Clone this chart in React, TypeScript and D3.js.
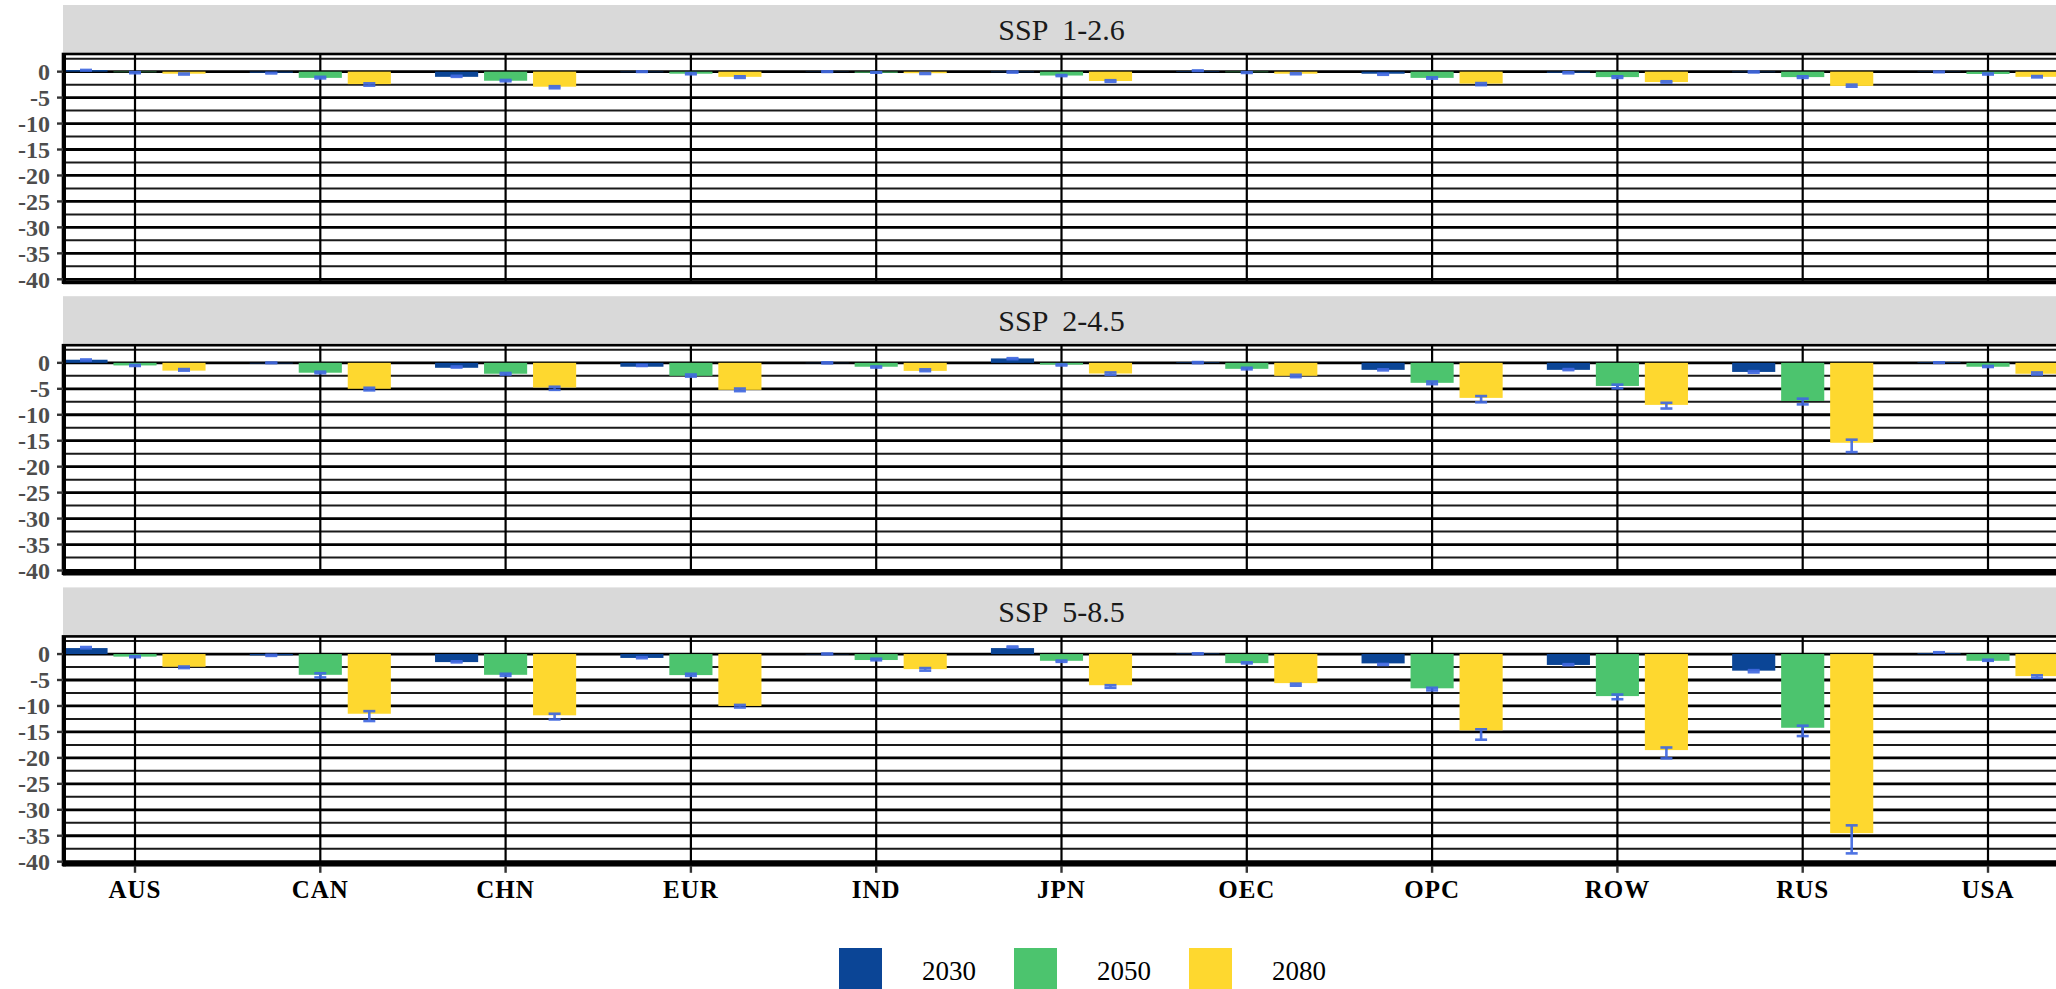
import React, { useEffect } from 'react';
import * as d3 from 'd3';

const countries = ['AUS', 'CAN', 'CHN', 'EUR', 'IND', 'JPN', 'OEC', 'OPC', 'ROW', 'RUS', 'USA'];
const years = ['2030', '2050', '2080'];
const scenarios = ['SSP 1-2.6', 'SSP 2-4.5', 'SSP 5-8.5'];
const yearColors = ['#0B4596', '#4CC46E', '#FED82F'];
const yTicks = [0, -5, -10, -15, -20, -25, -30, -35, -40];

// SSP 1-2.6
const ssp126_2030 = [0.3, -0.2, -1.0, -0.1, -0.05, -0.1, 0.1, -0.4, -0.2, -0.1, -0.05];
const ssp126_2050 = [-0.1, -1.2, -1.75, -0.4, -0.2, -0.75, -0.1, -1.2, -1.05, -1.05, -0.45];
const ssp126_2080 = [-0.4, -2.4, -2.9, -1.0, -0.3, -1.8, -0.4, -2.3, -2.0, -2.75, -1.0];
const ssp126_2030_err = [[0.23, 0.33], [-0.33, -0.23], [-1.0, -0.8], [-0.05, 0.05], [-0.05, 0.05], [-0.18, 0.02], [0.12, 0.22], [-0.6, -0.4], [-0.32, -0.12], [-0.15, 0.05], [-0.1, 0.0]];
const ssp126_2050_err = [[-0.3, -0.1], [-1.3, -1.0], [-1.85, -1.6], [-0.5, -0.3], [-0.2, -0.1], [-0.85, -0.65], [-0.25, -0.1], [-1.35, -1.1], [-1.2, -0.9], [-1.2, -0.9], [-0.55, -0.35]];
const ssp126_2080_err = [[-0.55, -0.35], [-2.7, -2.25], [-3.2, -2.8], [-1.2, -0.9], [-0.45, -0.25], [-1.95, -1.65], [-0.5, -0.3], [-2.6, -2.2], [-2.1, -1.85], [-2.9, -2.5], [-1.1, -0.85]];

// SSP 2-4.5
const ssp245_2030 = [0.6, -0.1, -0.95, -0.75, -0.05, 0.85, 0.1, -1.35, -1.35, -1.75, 0.1];
const ssp245_2050 = [-0.5, -1.9, -2.1, -2.5, -0.75, -0.35, -1.15, -3.85, -4.45, -7.35, -0.75];
const ssp245_2080 = [-1.5, -5.0, -4.75, -5.2, -1.55, -2.05, -2.5, -6.75, -8.1, -15.4, -2.1];
const ssp245_2030_err = [[0.45, 0.65], [-0.05, 0.05], [-0.9, -0.7], [-0.6, -0.4], [-0.1, 0.1], [0.7, 0.9], [-0.05, 0.15], [-1.45, -1.25], [-1.4, -1.2], [-1.9, -1.6], [0.0, 0.1]];
const ssp245_2050_err = [[-0.6, -0.4], [-2.0, -1.7], [-2.25, -1.95], [-2.65, -2.25], [-0.9, -0.7], [-0.5, -0.3], [-1.25, -0.95], [-4.1, -3.6], [-4.9, -4.2], [-8.0, -6.9], [-0.8, -0.6]];
const ssp245_2080_err = [[-1.5, -1.2], [-5.3, -4.8], [-5.2, -4.6], [-5.45, -4.95], [-1.6, -1.25], [-2.3, -1.85], [-2.75, -2.3], [-7.6, -6.4], [-8.8, -7.7], [-17.2, -14.8], [-2.25, -1.85]];

// SSP 5-8.5
const ssp585_2030 = [1.15, -0.25, -1.55, -0.75, -0.05, 1.15, 0.1, -1.8, -2.1, -3.2, 0.15];
const ssp585_2050 = [-0.5, -4.0, -4.0, -4.05, -1.15, -1.3, -1.75, -6.6, -8.1, -14.2, -1.3];
const ssp585_2080 = [-2.45, -11.5, -11.8, -10.0, -2.9, -6.0, -5.6, -14.7, -18.5, -34.5, -4.25];
const ssp585_2030_err = [[1.1, 1.35], [-0.35, -0.15], [-1.6, -1.4], [-0.8, -0.6], [-0.05, 0.1], [1.25, 1.45], [0.0, 0.15], [-2.1, -1.9], [-2.15, -1.95], [-3.5, -3.1], [0.25, 0.35]];
const ssp585_2050_err = [[-0.6, -0.4], [-4.5, -3.7], [-4.2, -3.8], [-4.2, -3.8], [-1.2, -0.9], [-1.5, -1.25], [-1.8, -1.6], [-7.0, -6.5], [-8.7, -7.8], [-15.8, -13.8], [-1.3, -1.1]];
const ssp585_2080_err = [[-2.7, -2.4], [-12.9, -11.0], [-12.6, -11.5], [-10.3, -9.8], [-3.2, -2.7], [-6.5, -6.0], [-6.1, -5.7], [-16.5, -14.5], [-20.1, -18.0], [-38.4, -33.0], [-4.6, -4.1]];

const panelValues = [
  [ssp126_2030, ssp126_2050, ssp126_2080],
  [ssp245_2030, ssp245_2050, ssp245_2080],
  [ssp585_2030, ssp585_2050, ssp585_2080],
];
const panelErrors = [
  [ssp126_2030_err, ssp126_2050_err, ssp126_2080_err],
  [ssp245_2030_err, ssp245_2050_err, ssp245_2080_err],
  [ssp585_2030_err, ssp585_2050_err, ssp585_2080_err],
];

const W = 2056;
const H = 989;
const plotLeft = 63;
const plotRight = 2060;
const panelH = 228.4;
const stripH = 49;
const panelTops = [54, 345.2, 636.4];
const serif = "'Liberation Serif', 'Times New Roman', serif";

const x = d3.scaleBand().domain(countries).range([plotLeft - 20.65, plotRight + 20.65]);
const xSub = d3.scaleBand().domain(years).range([-73.5, 73.5]).paddingInner(0.12).paddingOuter(0.06);

const minorTicks = d3.range(2.5, -40, -5);

function Panel({ idx }) {
  const top = panelTops[idx];
  const y = d3.scaleLinear().domain([-40.6, 3.4]).range([top + panelH, top]);
  const cx = (c) => x(c) + x.bandwidth() / 2;
  const bottom = top + panelH;
  const clipId = `clip-${idx}`;
  return (
    <g>
      <defs>
        <clipPath id={clipId}>
          <rect x={plotLeft} y={top} width={plotRight - plotLeft} height={panelH} />
        </clipPath>
      </defs>
      {/* strip */}
      <rect x={plotLeft} y={top - stripH} width={plotRight - plotLeft} height={stripH} fill="#D9D9D9" />
      <text
        x={(plotLeft + plotRight) / 2}
        y={top - stripH / 2}
        dy="0.35em"
        textAnchor="middle"
        fontFamily={serif}
        fontSize={30}
        fill="#1A1A1A"
        style={{ whiteSpace: 'pre' }}
      >
        {scenarios[idx].replace(' ', '  ')}
      </text>
      <g clipPath={`url(#${clipId})`}>
        <rect x={plotLeft} y={top} width={plotRight - plotLeft} height={panelH} fill="#fff" />
        {minorTicks.map((t) => (
          <line key={'mi' + t} x1={plotLeft} x2={plotRight} y1={y(t)} y2={y(t)} stroke="#1a1a1a" strokeWidth={2} />
        ))}
        {yTicks.map((t) => (
          <line key={'ma' + t} x1={plotLeft} x2={plotRight} y1={y(t)} y2={y(t)} stroke="#000" strokeWidth={2.8} />
        ))}
        {countries.map((c) => (
          <line key={'v' + c} x1={cx(c)} x2={cx(c)} y1={top} y2={bottom} stroke="#000" strokeWidth={2.2} />
        ))}
        {years.map((yr, j) =>
          countries.map((c, i) => {
            const v = panelValues[idx][j][i];
            const bx = cx(c) + xSub(yr);
            return (
              <rect
                key={yr + c}
                x={bx}
                width={xSub.bandwidth()}
                y={y(Math.max(0, v))}
                height={Math.abs(y(v) - y(0))}
                fill={yearColors[j]}
              />
            );
          })
        )}
        {years.map((yr, j) =>
          countries.map((c, i) => {
            const [lo, hi] = panelErrors[idx][j][i];
            const ex = cx(c) + xSub(yr) + xSub.bandwidth() / 2;
            const hw = 6;
            return (
              <g key={'e' + yr + c} stroke="#4169E1" strokeWidth={2.6} opacity={0.92}>
                <line x1={ex} x2={ex} y1={y(lo)} y2={y(hi)} />
                <line x1={ex - hw} x2={ex + hw} y1={y(lo)} y2={y(lo)} />
                <line x1={ex - hw} x2={ex + hw} y1={y(hi)} y2={y(hi)} />
              </g>
            );
          })
        )}
      </g>
      {/* panel border */}
      <rect x={plotLeft} y={top} width={plotRight - plotLeft} height={panelH} fill="none" stroke="#000" strokeWidth={2.6} />
      {/* axis lines */}
      <line x1={plotLeft + 1} x2={plotLeft + 1} y1={top} y2={bottom + 1.5} stroke="#000" strokeWidth={4} />
      <line x1={plotLeft} x2={plotRight} y1={bottom} y2={bottom} stroke="#000" strokeWidth={3.6} />
      {yTicks.map((t) => (
        <g key={'yt' + t}>
          <line x1={plotLeft - 6} x2={plotLeft} y1={y(t)} y2={y(t)} stroke="#333" strokeWidth={2.4} />
          <text
            x={plotLeft - 13}
            y={y(t)}
            dy="0.35em"
            textAnchor="end"
            fontFamily={serif}
            fontWeight="bold"
            fontSize={24}
            fill="#4D4D4D"
          >
            {t}
          </text>
        </g>
      ))}
      {idx === panelTops.length - 1 &&
        countries.map((c) => (
          <g key={'xt' + c}>
            <line x1={cx(c)} x2={cx(c)} y1={bottom + 1} y2={bottom + 8} stroke="#333" strokeWidth={2.4} />
            <text
              x={cx(c)}
              y={898}
              textAnchor="middle"
              fontFamily={serif}
              fontWeight="bold"
              fontSize={25}
              letterSpacing={1}
              fill="#000"
            >
              {c}
            </text>
          </g>
        ))}
    </g>
  );
}

export default function App() {
  useEffect(() => {
    document.body.style.margin = '0';
    document.body.style.overflow = 'hidden';
  }, []);
  const legendX = [839, 1014, 1189];
  return (
    <svg width={W} height={H} style={{ position: 'absolute', left: 0, top: 0, background: '#fff' }}>
      <rect x={0} y={0} width={W} height={H} fill="#fff" />
      {scenarios.map((s, i) => (
        <Panel key={s} idx={i} />
      ))}
      {years.map((yr, j) => (
        <g key={'lg' + yr}>
          <rect x={legendX[j]} y={948} width={43} height={43} fill={yearColors[j]} />
          <text x={legendX[j] + 83} y={980} fontFamily={serif} fontSize={27} fill="#000">
            {yr}
          </text>
        </g>
      ))}
    </svg>
  );
}
